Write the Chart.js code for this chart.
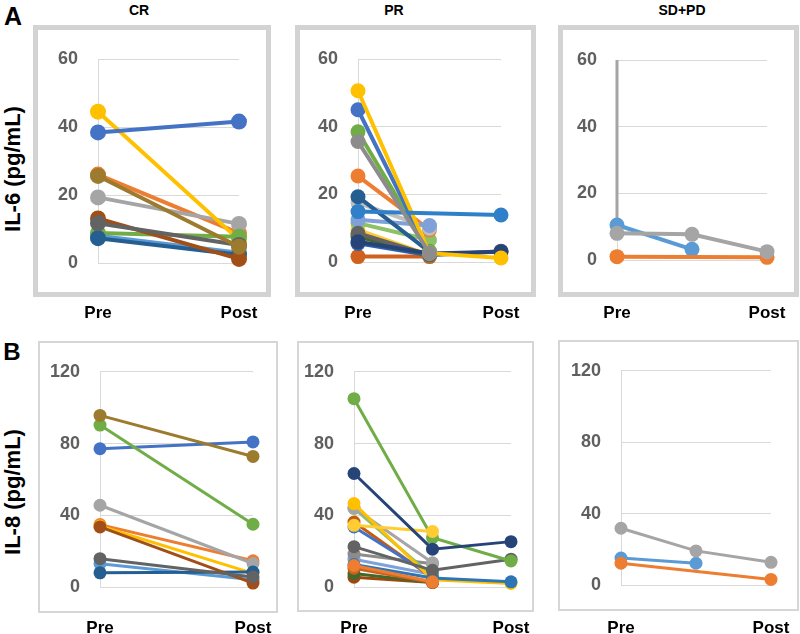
<!DOCTYPE html>
<html>
<head>
<meta charset="utf-8">
<script src="https://cdn.jsdelivr.net/npm/chart.js@4/dist/chart.umd.min.js"></script>
<style>
body { margin: 0; background: #fff; }
#page { position: relative; width: 800px; height: 634px; overflow: hidden; font-family: "Liberation Sans", Arial, sans-serif; }
.frame { position: absolute; box-sizing: border-box; }
.frame.top { border: 5px solid #d3d3d3; }
.frame.bot { border: 2px solid #d6d6d6; }
canvas { position: absolute; }
.txt { position: absolute; font-weight: bold; white-space: nowrap; line-height: 1; transform: translate(-50%, -50%); color: #000; }
.rot { transform: translate(-50%, -50%) rotate(-90deg); }
</style>
</head>
<body>
<div id="page">
  <div class="txt" style="left:13px;top:16px;font-size:25px;">A</div>
  <div class="txt" style="left:12px;top:352px;font-size:24px;">B</div>
  <div class="txt" style="left:139px;top:10px;font-size:14px;">CR</div>
  <div class="txt" style="left:394px;top:10px;font-size:14px;">PR</div>
  <div class="txt" style="left:682px;top:10px;font-size:14px;">SD+PD</div>
  <div class="txt rot" style="left:13px;top:169px;font-size:22px;">IL-6 (pg/mL)</div>
  <div class="txt rot" style="left:13px;top:492px;font-size:22px;">IL-8 (pg/mL)</div>
</div>
<script>
// Category / tick labels
const xLabels2 = ['Pre', 'Post'];
const xLabels3 = ['Pre', '', 'Post'];
const il6Ticks = [0, 20, 40, 60];
const il8Ticks = [0, 40, 80, 120];

// A - CR (IL-6)
const aCrColors = ['#5b9bd5', '#ed7d31', '#a5a5a5', '#ffc000', '#4472c4', '#70ad47', '#255e91', '#a24e17', '#636363', '#9c7a2e'];
const aCrPre  = [8, 26, 19.3, 44.5, 38.4, 8.8, 7.3, 13.1, 11.7, 25.6];
const aCrPost = [3, 8.8, 11.5, 6.8, 41.6, 7.7, 2.4, 1.2, 5.3, 4.8];

// A - PR (IL-6)
const aPrColors = ['#d0601e', '#2e5fa8', '#43682b', '#ffcd33', '#8cc168', '#ed7d31', '#bfbfbf', '#7fa0d8', '#255e91', '#636363', '#264478', '#70ad47', '#4472c4', '#ffc000', '#2f80c8', '#8c8c8c'];
const aPrPre  = [1.6, 5.5, 7.5, 9.5, 11.5, 25.4, 17.5, 12.5, 19.3, 8.5, 6, 38.5, 45, 50.6, 14.9, 35.6];
const aPrMid  = [1.6, 2, 2, 2, 6.5, 9.5, 10, 10.8, 3, 2, 2.5, 3, 2.5, 2.6, null, 2.6];
const aPrPost = [null, null, null, null, null, null, null, null, null, 3.2, 3, null, null, 1.2, 13.9, null];

// A - SD+PD (IL-6)
const aSdColors = ['#5b9bd5', '#ed7d31', '#a5a5a5'];
const aSdPre  = [10.5, 1, 8];
const aSdMid  = [3.2, null, 7.7];
const aSdPost = [null, 0.8, 2.5];
const aSdBar  = [60, 8.5];

// B - CR (IL-8)
const bCrColors = ['#5b9bd5', '#ed7d31', '#a5a5a5', '#ffc000', '#4472c4', '#70ad47', '#255e91', '#a24e17', '#636363', '#9c7a2e'];
const bCrPre  = [13, 34.8, 45.6, 34, 77.1, 90.3, 7.9, 33.5, 15.8, 95.7];
const bCrPost = [4, 14.6, 13.1, 7.6, 80.9, 35, 8.3, 2.2, 5.6, 72.8];

// B - PR (IL-8)
const bPrColors = ['#9e480e', '#43682b', '#d0601e', '#7fa0d8', '#8c8c8c', '#c55a11', '#4472c4', '#8cc168', '#a5a5a5', '#ffc000', '#2e75b6', '#636363', '#ed7d31', '#70ad47', '#ffcd33', '#264478'];
const bPrPre  = [5.5, 7.5, 10.5, 15.5, 18.4, 36.2, 33.5, 43.8, 44, 46.5, 12.5, 22.5, 12, 105, 34.4, 63.3];
const bPrMid  = [2.5, 2.5, 2.5, 7, 13, 5, 6, 6, 13.5, 4, 5, 9.3, 2.9, 27.5, 31, 21.1];
const bPrPost = [null, null, null, null, null, null, null, null, null, 2, 2.9, 15.5, null, 14.5, null, 25.3];

// B - SD+PD (IL-8)
const bSdColors = ['#5b9bd5', '#ed7d31', '#a5a5a5'];
const bSdPre  = [15.1, 12.2, 31.8];
const bSdMid  = [12.2, null, 19.1];
const bSdPost = [null, 3.1, 12.7];

const page = document.getElementById('page');
const fontFamily = '"Liberation Sans", Arial, sans-serif';

function addFrame(cls, x, y, w, h) {
    const d = document.createElement('div');
    d.className = 'frame ' + cls;
    d.style.left = x + 'px'; d.style.top = y + 'px';
    d.style.width = w + 'px'; d.style.height = h + 'px';
    page.appendChild(d);
}

function buildSeries(colors, columns, lineWidth, radius) {
    return colors.map((color, i) => ({
        data: columns.map(col => col[i]),
        borderColor: color,
        backgroundColor: color,
        pointBackgroundColor: color,
        pointBorderWidth: 0,
        pointRadius: radius,
        borderWidth: lineWidth,
        tension: 0,
        spanGaps: true,
        clip: false,
        order: -i
    }));
}

function makePanel(box, area, labels, yTicks, datasets, labelDrop) {
    const c = document.createElement('canvas');
    c.width = box.w; c.height = box.h;
    c.style.left = box.x + 'px'; c.style.top = box.y + 'px';
    page.appendChild(c);
    const yWidth = area.l - box.x;
    const xHeight = box.y + box.h - area.b;
    new Chart(c, {
        type: 'line',
        data: { labels: labels, datasets: datasets },
        options: {
            responsive: false,
            animation: false,
            devicePixelRatio: 1,
            layout: { padding: { top: area.t - box.y, right: box.x + box.w - area.r, left: 0, bottom: 0 } },
            plugins: { legend: { display: false }, tooltip: { enabled: false } },
            scales: {
                x: {
                    // hidden tick marks only push the labels down below the frame
                    grid: { display: false, drawTicks: true, tickLength: labelDrop },
                    border: { display: false },
                    ticks: { autoSkip: false, maxRotation: 0, padding: 0, color: '#000',
                             font: { family: fontFamily, size: 17, weight: 'bold' } },
                    afterFit: s => { s.height = xHeight; }
                },
                y: {
                    min: yTicks[0],
                    max: yTicks[yTicks.length - 1],
                    grid: { color: '#d9d9d9', drawTicks: false },
                    border: { color: '#d9d9d9' },
                    ticks: { padding: 20, color: '#5f5f5f', font: { family: fontFamily, size: 18, weight: 'bold' } },
                    afterBuildTicks: s => { s.ticks = yTicks.map(v => ({ value: v })); },
                    afterFit: s => { s.width = yWidth; }
                }
            }
        }
    });
}

// Frames
addFrame('top', 33, 25, 238, 272);
addFrame('top', 295, 25, 241, 272);
addFrame('top', 558, 25, 241, 272);
addFrame('bot', 38, 341, 240, 272);
addFrame('bot', 297, 341, 237, 271);
addFrame('bot', 558, 340, 241, 271);

// Row A
makePanel({ x: 33, y: 25, w: 238, h: 300 }, { l: 98, r: 239, t: 59, b: 263 }, xLabels2, il6Ticks,
    buildSeries(aCrColors, [aCrPre, aCrPost], 4, 8), 40);
makePanel({ x: 295, y: 25, w: 241, h: 300 }, { l: 358, r: 501, t: 59, b: 262 }, xLabels3, il6Ticks,
    buildSeries(aPrColors, [aPrPre, aPrMid, aPrPost], 4, 7.5), 41);

const aSdSets = buildSeries(aSdColors, [aSdPre, aSdMid, aSdPost], 4, 7.5);
aSdSets.push({
    data: aSdBar.map(v => ({ x: 'Pre', y: v })),
    borderColor: '#a5a5a5', borderWidth: 3, pointRadius: 0, clip: false, order: 10
});
makePanel({ x: 558, y: 25, w: 241, h: 300 }, { l: 617, r: 767, t: 60, b: 260 }, xLabels3, il6Ticks, aSdSets, 43);

// Row B
makePanel({ x: 38, y: 341, w: 240, h: 293 }, { l: 100, r: 253, t: 365, b: 587 }, xLabels2, il8Ticks,
    buildSeries(bCrColors, [bCrPre, bCrPost], 3, 6.5), 31);
makePanel({ x: 297, y: 341, w: 237, h: 293 }, { l: 354, r: 511, t: 367, b: 587 }, xLabels3, il8Ticks,
    buildSeries(bPrColors, [bPrPre, bPrMid, bPrPost], 3, 6.5), 31);
makePanel({ x: 558, y: 340, w: 241, h: 294 }, { l: 621, r: 771, t: 365, b: 585 }, xLabels3, il8Ticks,
    buildSeries(bSdColors, [bSdPre, bSdMid, bSdPost], 3, 6.5), 33);
</script>
</body>
</html>
